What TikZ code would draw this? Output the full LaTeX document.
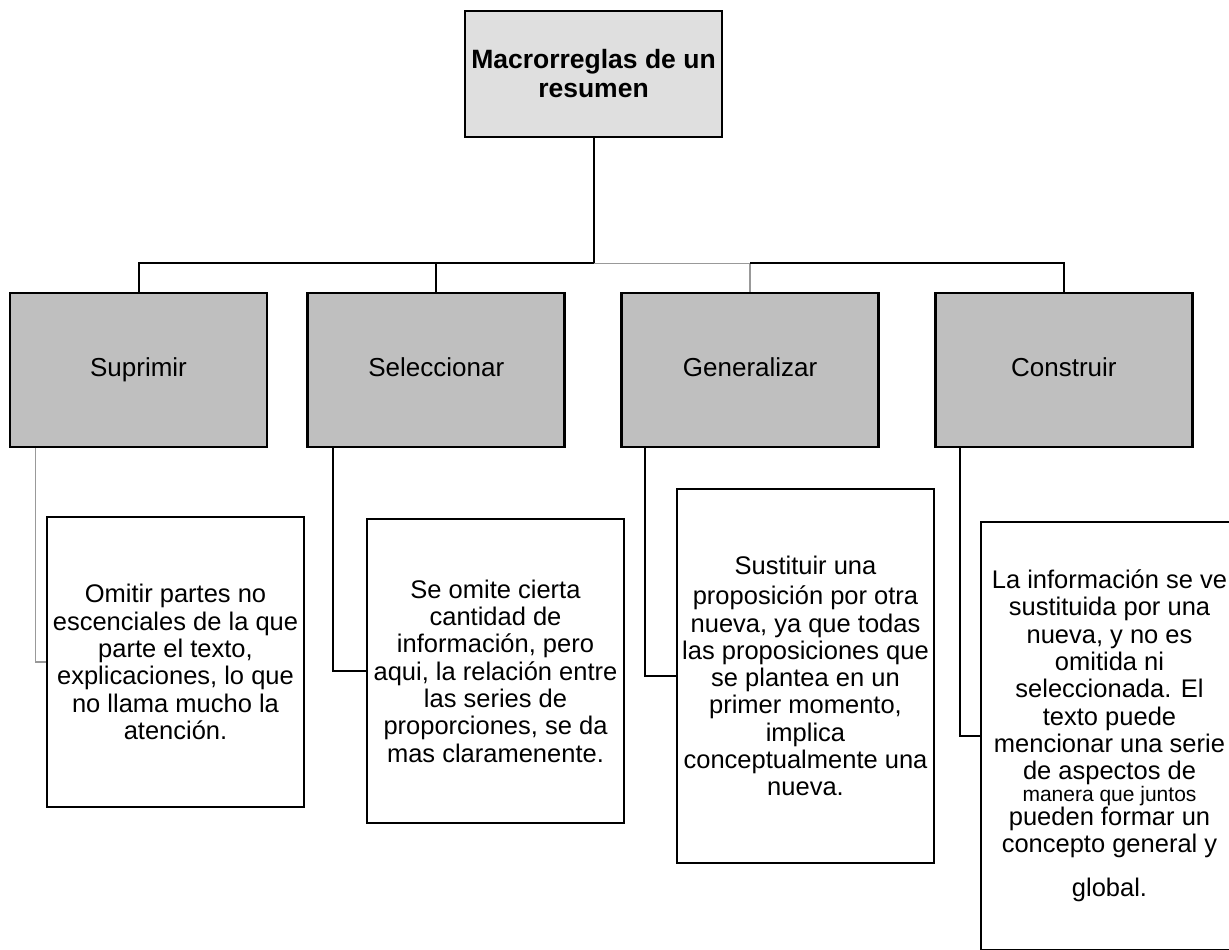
\documentclass[tikz,border=0pt]{standalone}
\usepackage{fontspec}
\setmainfont{Liberation Sans}
\usetikzlibrary{positioning, calc}

\begin{document}
\begin{tikzpicture}[
		x=1pt, y=-1pt,
		% caja del titulo
		main_box/.style = {draw, line width=2.6pt, fill=gray!25, minimum width=257pt, minimum height=126pt, align=center, font=\fontsize{26.5}{29}\selectfont\bfseries},
		% cajas de las macrorreglas
		block/.style = {draw, line width=2.8pt, fill=gray!50, minimum width=257pt, minimum height=154pt, text height=19pt, text depth=6pt, font=\fontsize{26}{27.3}\selectfont},
		% cajas con la explicacion
		desc_box/.style = {draw, line width=2.4pt, fill=white, minimum width=257pt, align=center, inner sep=0pt, font=\fontsize{25.5}{27.3}\selectfont},
		conn/.style = {line width=2pt},
		conn_gris/.style = {line width=1.6pt, draw=gray!80}
		]
		
		\clip (0,0) rectangle (1229,950);
		
		% --- TITULO ---
		\node [main_box] (titulo) at (593.5,74) {Macrorreglas de un\\resumen};
		
		% --- MACRORREGLAS ---
		\node [block] (sup) at (138.5,370) {Suprimir};
		\node [block, right=38pt of sup] (sel) {Seleccionar};
		\node [block, right=54pt of sel] (gen) {Generalizar};
		\node [block, right=54pt of gen] (cons) {Construir};
		
		% --- EXPLICACIONES ---
		\node [desc_box, minimum height=290pt] (omitir) at (175.5,662) {Omitir partes no\\escenciales de la que\\parte el texto,\\explicaciones, lo que\\no llama mucho la\\atención.};
		\node [desc_box, minimum height=304pt] (seleccion) at (495.5,671) {Se omite cierta\\cantidad de\\información, pero\\aqui, la relación entre\\las series de\\proporciones, se da\\mas claramenente.};
		\node [desc_box, minimum height=374pt] (sustituir) at (805.5,676) {Sustituir una\\[3pt]proposición por otra\\nueva, ya que todas\\las proposiciones que\\se plantea en un\\primer momento,\\implica\\conceptualmente una\\nueva.};
		\node [desc_box, minimum height=428pt] (informacion) at (1109.5,736) {La información se ve\\sustituida por una\\nueva, y no es\\omitida ni\\seleccionada. El\\texto puede\\mencionar una serie\\de aspectos de\\[-6pt]{\fontsize{21}{22}\selectfont manera que juntos}\\[-3pt]pueden formar un\\concepto general y\\[17pt]global.};
		
		% --- CONECTORES ---
		\coordinate (bus) at ($(titulo.south)+(0,125)$);
		\draw [conn] (titulo.south) -- (bus);
		\draw [conn] (bus) -| (sup.north);
		\draw [conn] (bus) -| (sel.north);
		\draw [conn_gris] (bus) -| (gen.north);
		\draw [conn] (gen.north |- bus) -| (cons.north);
		
		\draw [conn_gris] ([xshift=27pt]sup.south west) |- (omitir.west);
		\draw [conn] ([xshift=27pt]sel.south west) |- (seleccion.west);
		\draw [conn] ([xshift=25pt]gen.south west) |- (sustituir.west);
		\draw [conn] ([xshift=26pt]cons.south west) |- (informacion.west);
		
	\end{tikzpicture}
\end{document}
